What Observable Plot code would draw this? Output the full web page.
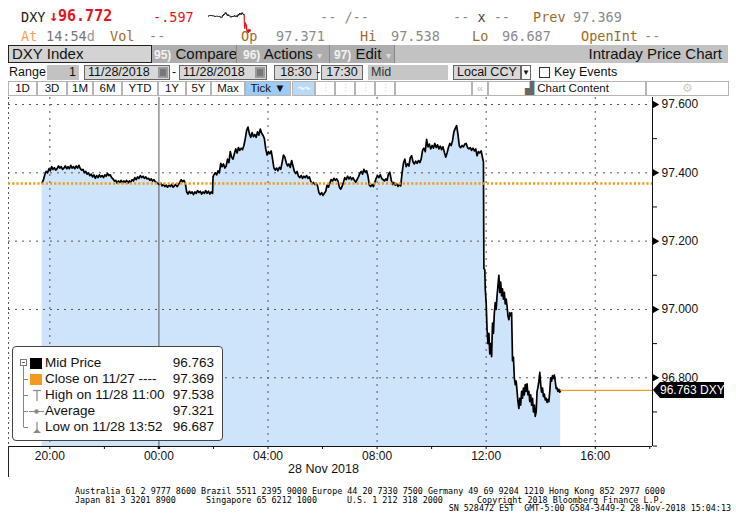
<!DOCTYPE html>
<html><head><meta charset="utf-8">
<script src="https://cdn.jsdelivr.net/npm/d3@7"></script>
<script src="https://cdn.jsdelivr.net/npm/@observablehq/plot@0.6"></script>
<style>
body{margin:0;background:#fff;}
#root{position:relative;width:736px;height:530px;overflow:hidden;font-family:"Liberation Sans",Arial,sans-serif;color:#111;}
.a{position:absolute;white-space:nowrap;box-sizing:border-box;}
.m{font-family:"DejaVu Sans Mono","Liberation Mono",monospace;font-size:13.5px;line-height:16px;}
.g{color:#8a8a8a}.b{color:#9c6a2c}
.r4{top:65px;height:15px;font-size:12.5px;line-height:13px;}
.bx{border:1px solid #666;}
.r5{top:81px;height:15px;font-size:11.5px;line-height:13px;text-align:center;border:1px solid #b5b5b5;background:#fff;}
.ft{font-family:"DejaVu Sans Mono","Liberation Mono",monospace;font-size:8.4px;line-height:8px;height:8px;color:#000;}
.lg{font-size:13.5px;line-height:16px;color:#111;}
</style></head>
<body>
<div id="root">
  <!-- row 1 -->
  <div class="a m" style="left:21px;top:9px;color:#1a1a1a">DXY</div>
  <div class="a m" style="left:49px;top:8px;color:#e3141b;font-size:15px;font-weight:bold">↓96.772</div>
  <div class="a m" style="left:153px;top:9px;color:#e3141b">-.597</div>
  <div class="a" id="spark" style="left:207px;top:11px"></div>
  <div class="a m g" style="left:320px;top:9px">-- /--</div>
  <div class="a m g" style="left:453px;top:9px">-- <span style="color:#444">x</span> --</div>
  <div class="a m b" style="left:533px;top:9px">Prev</div>
  <div class="a m g" style="left:573px;top:9px">97.369</div>
  <!-- row 2 -->
  <div class="a m" style="left:21px;top:28px;color:#f4a15c">At</div>
  <div class="a m" style="left:46px;top:28px;color:#777">14:54<span style="color:#999">d</span></div>
  <div class="a m b" style="left:110px;top:28px">Vol</div>
  <div class="a m g" style="left:149px;top:28px">--</div>
  <div class="a m b" style="left:241px;top:28px">Op</div>
  <div class="a m g" style="left:276px;top:28px">97.371</div>
  <div class="a m b" style="left:360px;top:28px">Hi</div>
  <div class="a m g" style="left:391px;top:28px">97.538</div>
  <div class="a m b" style="left:472px;top:28px">Lo</div>
  <div class="a m g" style="left:502px;top:28px">96.687</div>
  <div class="a m b" style="left:581px;top:28px">OpenInt</div>
  <div class="a m g" style="left:644px;top:28px">--</div>
  <!-- row 3 -->
  <div class="a" style="left:8px;top:45px;width:720px;height:18px;background:#c2c2c2"></div>
  <div class="a" style="left:151px;top:45px;width:243px;height:18px;background:#adadad"></div>
  <div class="a" style="left:8px;top:45px;width:144px;height:18px;border:1px solid #222;background:#d3d3d3;font-size:15px;line-height:16px;padding-left:3px">DXY Index</div>
  <div class="a" style="left:154px;top:45px;height:18px;font-size:15px;line-height:18px"><span style="color:#f2f2f2;font-size:12px;font-weight:bold">95)</span> Compare</div>
  <div class="a" style="left:236px;top:45px;width:1px;height:18px;background:#888"></div>
  <div class="a" style="left:243px;top:45px;height:18px;font-size:15px;line-height:18px"><span style="color:#f2f2f2;font-size:12px;font-weight:bold">96)</span> Actions <span style="color:#ddd;font-size:10px">▾</span></div>
  <div class="a" style="left:329px;top:45px;width:1px;height:18px;background:#888"></div>
  <div class="a" style="left:334px;top:45px;height:18px;font-size:15px;line-height:18px"><span style="color:#f2f2f2;font-size:12px;font-weight:bold">97)</span> Edit <span style="color:#ddd;font-size:10px">▾</span></div>
  <div class="a" style="left:394px;top:45px;width:1px;height:18px;background:#888"></div>
  <div class="a" style="right:14px;top:45px;height:18px;font-size:15px;line-height:18px">Intraday Price Chart</div>
  <!-- row 4 -->
  <div class="a r4" style="left:9px;line-height:15px">Range</div>
  <div class="a r4" style="left:47px;width:32px;background:#c2c2c2;text-align:right;padding-right:3px;line-height:15px">1</div>
  <div class="a r4 bx" style="left:84px;width:86px;background:#d8d8d8;padding-left:3px">11/28/2018</div>
  <div class="a" style="left:158px;top:67px;width:10px;height:11px;background:#777;border:2px solid #999"></div>
  <div class="a r4" style="left:172px;line-height:15px">-</div>
  <div class="a r4 bx" style="left:179px;width:88px;background:#d8d8d8;padding-left:3px">11/28/2018</div>
  <div class="a" style="left:255px;top:67px;width:10px;height:11px;background:#777;border:2px solid #999"></div>
  <div class="a r4 bx" style="left:274px;width:44px;background:#d8d8d8;text-align:center">18:30</div>
  <div class="a r4" style="left:316px;line-height:15px">-</div>
  <div class="a r4 bx" style="left:321px;width:42px;background:#d8d8d8;text-align:center">17:30</div>
  <div class="a r4" style="left:368px;width:80px;background:#c6c6c6;padding-left:3px;line-height:15px;color:#333">Mid</div>
  <div class="a r4 bx" style="left:453px;width:68px;background:#d8d8d8;padding-left:3px">Local CCY</div>
  <div class="a r4 bx" style="left:521px;width:10px;background:#fff;font-size:8px;text-align:center">▼</div>
  <div class="a" style="left:539px;top:67px;width:11px;height:11px;border:1px solid #333;background:#fff"></div>
  <div class="a r4" style="left:554px;line-height:15px">Key Events</div>
  <!-- row 5 -->
  <div class="a r5" style="left:8px;width:29px">1D</div>
  <div class="a r5" style="left:37px;width:30px">3D</div>
  <div class="a r5" style="left:67px;width:26px">1M</div>
  <div class="a r5" style="left:93px;width:29px">6M</div>
  <div class="a r5" style="left:122px;width:36px">YTD</div>
  <div class="a r5" style="left:158px;width:28px">1Y</div>
  <div class="a r5" style="left:186px;width:25px">5Y</div>
  <div class="a r5" style="left:211px;width:34px">Max</div>
  <div class="a r5" style="left:245px;width:46px;background:#9dcbf6">Tick ▼</div>
  <div class="a r5" style="left:292px;width:23px;background:#b9d9f8;color:#eaf4ff">〰</div>
  <div class="a r5" style="left:315px;width:20px;color:#ddd">⫶</div>
  <div class="a r5" style="left:335px;width:20px;color:#ddd">⫶</div>
  <div class="a r5" style="left:355px;width:20px;color:#ddd">⫶</div>
  <div class="a r5" style="left:375px;width:20px;color:#ddd">⫶</div>
  <div class="a r5" style="left:395px;width:77px"></div>
  <div class="a r5" style="left:472px;width:16px;color:#bbb">«</div>
  <div class="a r5" style="left:488px;width:158px;text-align:center"><span style="color:#666">▟</span> Chart Content</div>
  <div class="a r5" style="left:646px;width:83px;color:#ccc">⚙</div>
  <!-- chart -->
  <div class="a" id="chart" style="left:0;top:96px"></div>
  <div class="a" style="left:8px;top:446px;width:1px;height:31px;background:#222"></div>
  <div class="a" id="lastlab" style="left:653px;height:16px;width:71px;background:#000;color:#fff;font-size:12px;line-height:16px;padding-left:7px;clip-path:polygon(0 50%,7px 0,100% 0,100% 100%,7px 100%)">96.763 DXY</div>
  <!-- legend -->
  <div class="a" id="legend" style="left:12px;top:346px;width:211px;height:95px;border:1px solid #444;border-radius:4px;background:#fff"></div>
  <!-- footer -->
  <div class="a ft" style="left:75px;top:487px">Australia 61 2 9777 8600 Brazil 5511 2395 9000 Europe 44 20 7330 7500 Germany 49 69 9204 1210 Hong Kong 852 2977 6000</div>
  <div class="a ft" style="left:75px;top:495.5px">Japan 81 3 3201 8900</div>
  <div class="a ft" style="left:206px;top:495.5px">Singapore 65 6212 1000</div>
  <div class="a ft" style="left:347px;top:495.5px">U.S. 1 212 318 2000</div>
  <div class="a ft" style="left:477px;top:495.5px">Copyright 2018 Bloomberg Finance L.P.</div>
  <div class="a ft" style="right:5px;top:504px">SN 528472 EST&nbsp; GMT-5:00 G584-3449-2 28-Nov-2018 15:04:13</div>
</div>
<script>
// ---- data ----
const times = [
"19:43","19:46","19:49","19:52","19:55","19:58","20:01","20:04","20:07","20:10",
"20:13","20:16","20:19","20:22","20:25","20:28","20:31","20:34","20:37","20:40",
"20:43","20:46","20:49","20:52","20:55","20:58","21:01","21:04","21:07","21:10",
"21:13","21:16","21:19","21:22","21:25","21:28","21:31","21:34","21:37","21:40",
"21:43","21:46","21:49","21:52","21:55","21:58","22:01","22:04","22:07","22:10",
"22:13","22:16","22:19","22:22","22:25","22:28","22:31","22:34","22:37","22:40",
"22:43","22:46","22:49","22:52","22:55","22:58","23:01","23:04","23:07","23:10",
"23:13","23:16","23:19","23:22","23:25","23:28","23:31","23:34","23:37","23:40",
"23:43","23:46","23:49","23:52","23:55","23:58","00:01","00:04","00:07","00:10",
"00:13","00:16","00:19","00:22","00:25","00:28","00:31","00:34","00:37","00:40",
"00:43","00:46","00:49","00:52","00:55","00:58","01:01","01:04","01:07","01:10",
"01:13","01:16","01:19","01:22","01:25","01:28","01:31","01:34","01:37","01:40",
"01:43","01:46","01:49","01:52","01:55","01:58","01:59","02:01","02:04","02:07",
"02:10","02:13","02:16","02:19","02:22","02:25","02:28","02:31","02:34","02:37",
"02:40","02:43","02:46","02:49","02:52","02:55","02:58","03:01","03:04","03:07",
"03:10","03:13","03:16","03:19","03:22","03:25","03:28","03:31","03:34","03:37",
"03:40","03:43","03:46","03:49","03:52","03:55","03:58","04:01","04:04","04:07",
"04:10","04:13","04:16","04:19","04:22","04:25","04:28","04:31","04:34","04:37",
"04:40","04:43","04:46","04:49","04:52","04:55","04:58","05:01","05:04","05:07",
"05:10","05:13","05:16","05:19","05:22","05:25","05:28","05:31","05:34","05:37",
"05:40","05:43","05:46","05:49","05:52","05:55","05:58","06:01","06:04","06:07",
"06:10","06:13","06:16","06:19","06:22","06:25","06:28","06:31","06:34","06:37",
"06:40","06:43","06:46","06:49","06:52","06:55","06:58","07:01","07:04","07:07",
"07:10","07:13","07:16","07:19","07:22","07:25","07:28","07:31","07:34","07:37",
"07:40","07:43","07:46","07:49","07:52","07:55","07:58","08:01","08:04","08:07",
"08:10","08:13","08:16","08:19","08:22","08:25","08:28","08:31","08:34","08:37",
"08:40","08:43","08:46","08:49","08:52","08:55","08:58","09:01","09:04","09:07",
"09:10","09:13","09:16","09:19","09:22","09:25","09:28","09:31","09:34","09:37",
"09:40","09:43","09:46","09:49","09:52","09:55","09:58","10:01","10:04","10:07",
"10:10","10:13","10:16","10:19","10:22","10:25","10:28","10:31","10:34","10:37",
"10:40","10:43","10:46","10:49","10:52","10:55","10:58","11:01","11:04","11:07",
"11:10","11:13","11:16","11:19","11:22","11:25","11:28","11:31","11:34","11:37",
"11:40","11:43","11:46","11:49","11:52","11:54","11:55","11:57","11:58","12:00",
"12:02","12:04","12:06","12:08","12:10","12:12","12:14","12:16","12:18","12:20",
"12:22","12:24","12:26","12:28","12:30","12:32","12:34","12:36","12:38","12:40",
"12:42","12:44","12:46","12:48","12:50","12:52","12:54","12:56","12:58","13:00",
"13:02","13:04","13:06","13:08","13:10","13:12","13:14","13:16","13:18","13:20",
"13:22","13:24","13:26","13:28","13:30","13:32","13:34","13:36","13:38","13:40",
"13:42","13:44","13:46","13:48","13:50","13:52","13:54","13:56","13:58","14:00",
"14:02","14:04","14:06","14:08","14:10","14:12","14:14","14:16","14:18","14:20",
"14:22","14:24","14:26","14:28","14:30","14:32","14:34","14:36","14:38","14:40",
"14:42","14:44"];
const values = [
97.371,97.380,97.395,97.404,97.400,97.412,97.406,97.418,97.410,97.415,
97.408,97.412,97.420,97.414,97.418,97.410,97.414,97.420,97.412,97.418,
97.412,97.422,97.414,97.418,97.412,97.420,97.414,97.422,97.412,97.408,
97.410,97.400,97.404,97.396,97.400,97.392,97.396,97.388,97.394,97.384,
97.392,97.386,97.394,97.388,97.392,97.386,97.394,97.390,97.398,97.392,
97.394,97.386,97.382,97.376,97.378,97.370,97.376,97.372,97.378,97.370,
97.376,97.372,97.378,97.370,97.376,97.372,97.380,97.376,97.386,97.380,
97.388,97.384,97.392,97.386,97.390,97.384,97.388,97.382,97.384,97.378,
97.382,97.376,97.380,97.374,97.372,97.368,97.366,97.370,97.362,97.366,
97.360,97.364,97.358,97.364,97.360,97.366,97.358,97.362,97.366,97.360,
97.366,97.372,97.380,97.374,97.378,97.370,97.344,97.338,97.346,97.340,
97.344,97.336,97.344,97.340,97.348,97.342,97.346,97.338,97.344,97.340,
97.348,97.340,97.346,97.338,97.344,97.340,97.388,97.394,97.400,97.394,
97.406,97.400,97.428,97.418,97.426,97.414,97.420,97.440,97.430,97.462,
97.446,97.440,97.456,97.470,97.458,97.474,97.466,97.472,97.468,97.480,
97.500,97.524,97.534,97.514,97.504,97.518,97.506,97.512,97.504,97.520,
97.510,97.528,97.516,97.510,97.500,97.470,97.452,97.462,97.456,97.464,
97.440,97.414,97.408,97.414,97.406,97.416,97.410,97.430,97.452,97.446,
97.430,97.420,97.426,97.416,97.436,97.420,97.404,97.398,97.404,97.390,
97.386,97.392,97.384,97.390,97.386,97.392,97.384,97.388,97.376,97.368,
97.372,97.366,97.370,97.362,97.342,97.336,97.342,97.334,97.340,97.346,
97.364,97.358,97.370,97.380,97.376,97.384,97.378,97.382,97.376,97.358,
97.352,97.360,97.372,97.386,97.380,97.390,97.382,97.388,97.380,97.386,
97.378,97.372,97.380,97.388,97.398,97.404,97.396,97.410,97.402,97.406,
97.390,97.364,97.360,97.366,97.360,97.372,97.384,97.392,97.386,97.394,
97.384,97.380,97.376,97.382,97.378,97.396,97.402,97.380,97.366,97.372,
97.364,97.368,97.360,97.366,97.362,97.400,97.428,97.440,97.418,97.426,
97.420,97.444,97.450,97.432,97.426,97.434,97.428,97.436,97.430,97.440,
97.466,97.472,97.462,97.498,97.476,97.484,97.470,97.480,97.472,97.486,
97.474,97.482,97.470,97.478,97.468,97.476,97.460,97.446,97.458,97.474,
97.486,97.480,97.494,97.520,97.530,97.538,97.512,97.478,97.474,97.480,
97.476,97.484,97.486,97.474,97.470,97.474,97.466,97.472,97.464,97.470,
97.450,97.462,97.458,97.464,97.444,97.432,97.120,97.116,97.060,97.020,
96.940,96.900,96.930,96.870,96.900,96.862,96.960,96.930,96.990,97.020,
97.000,97.040,97.070,97.100,97.050,97.080,97.040,97.060,97.030,97.050,
97.016,97.030,97.010,96.980,96.970,96.990,96.982,96.990,96.850,96.860,
96.800,96.780,96.790,96.760,96.730,96.710,96.740,96.720,96.760,96.740,
96.770,96.750,96.780,96.760,96.782,96.750,96.760,96.730,96.750,96.720,
96.740,96.700,96.720,96.687,96.700,96.760,96.772,96.790,96.816,96.780,
96.758,96.770,96.745,96.752,96.735,96.740,96.728,96.736,96.730,96.760,
96.800,96.790,96.806,96.798,96.808,96.790,96.768,96.770,96.760,96.766,
96.758,96.763];
const yMajorTicks = [96.8, 97.0, 97.2, 97.4, 97.6];
const yMinorTicks = [96.6, 96.7, 96.9, 97.1, 97.3, 97.5];
const xGridHours = [20, 4, 8, 12, 16];
const prevClose = 97.369;
const lastPrice = 96.763;
const legendLabels = ["Mid Price", "Close on 11/27 ----", "High on 11/28 11:00", "Average", "Low on 11/28 13:52"];
const legendValues = ["96.763", "97.369", "97.538", "97.321", "96.687"];
const dateLabel = "28 Nov 2018";

// ---- build ----
const toDate = s => { const [h, m] = s.split(":").map(Number); return new Date(Date.UTC(2018, 10, h >= 18 ? 27 : 28, h, m)); };
const data = times.map((s, i) => ({t: toDate(s), v: values[i]}));
const xStart = new Date(Date.UTC(2018, 10, 27, 18, 29));
const xEnd = new Date(Date.UTC(2018, 10, 28, 18, 6));
const yDom = [96.5988, 97.6205];
const midnight = new Date(Date.UTC(2018, 10, 28, 0, 0));
const xTicks = d3.utcHour.every(2).range(new Date(Date.UTC(2018, 10, 27, 20)), new Date(Date.UTC(2018, 10, 28, 18, 1)));
const xGrid = xTicks.filter(d => xGridHours.includes(d.getUTCHours()) && d.getTime() !== midnight.getTime());
const fmt = d3.utcFormat("%H:%M");
const last = data[data.length - 1];

const plot = Plot.plot({
  width: 736, height: 384,
  marginLeft: 8, marginRight: 84, marginTop: 1, marginBottom: 34,
  x: {type: "utc", domain: [xStart, xEnd], label: null},
  y: {domain: yDom, label: null},
  style: {fontFamily: "'Liberation Sans', Arial, sans-serif", fontSize: "12px", color: "#111", background: "transparent", overflow: "visible"},
  marks: [
    Plot.areaY(data, {x: "t", y1: yDom[0], y2: "v", fill: "#cde4fb"}),
    Plot.ruleY(yMajorTicks, {stroke: "#555", strokeDasharray: "2,5"}),
    Plot.ruleX(xGrid, {stroke: "#555", strokeDasharray: "2,5"}),
    Plot.ruleX([midnight], {stroke: "#555", strokeWidth: 1}),
    Plot.ruleX([xStart], {stroke: "#555", strokeDasharray: "2,3"}),
    Plot.lineY(data, {x: "t", y: "v", stroke: "#000", strokeWidth: 1.7}),
    Plot.ruleY([prevClose], {stroke: "#f39a1e", strokeWidth: 2.5, strokeDasharray: "2.2,2"}),
    Plot.ruleY([lastPrice], {x1: () => last.t, x2: () => xEnd, stroke: "#f39a1e", strokeWidth: 1.4}),
    Plot.ruleY([yDom[0]], {stroke: "#111"}),
    Plot.ruleX([xEnd], {stroke: "#111"}),
    Plot.axisX({ticks: xTicks, label: null, tickSize: 3, tickPadding: 2, tickFormat: d => d.getUTCHours() % 4 === 0 ? fmt(d) : ""}),
    Plot.axisX([midnight], {label: null, tickSize: 3, strokeWidth: 2.5, tickFormat: () => ""}),
    Plot.axisY(yMajorTicks, {anchor: "right", label: null, tickSize: 0, tickPadding: 9, tickFormat: d3.format(".3f")}),
    Plot.axisY(yMinorTicks, {anchor: "right", label: null, tickSize: 4, tickFormat: () => ""}),
    Plot.dot(yMajorTicks, {x: () => xEnd, y: d => d, symbol: "triangle", rotate: 90, r: 2.8, fill: "#000", stroke: null, dx: 2.4}),
    Plot.text([dateLabel], {frameAnchor: "bottom", dy: 26, dx: -7, fontSize: 12.5})
  ]
});
document.getElementById("chart").appendChild(plot);

// last price label at the y scale position
const py = 96 + plot.scale("y").apply(lastPrice);
document.getElementById("lastlab").style.top = (py - 8) + "px";

// sparkline
const splitIdx = data.findIndex(d => d.v < 97.2);
const spark = Plot.plot({
  width: 44, height: 22, margin: 1,
  x: {type: "utc", axis: null}, y: {axis: null},
  style: {background: "transparent"},
  marks: [
    Plot.lineY(data.slice(0, splitIdx), {x: "t", y: "v", stroke: "#000", strokeWidth: 1}),
    Plot.lineY(data.slice(splitIdx - 1), {x: "t", y: "v", stroke: "#e3141b", strokeWidth: 1.2})
  ]
});
document.getElementById("spark").appendChild(spark);

// legend
const lg = document.getElementById("legend");
const rowY = [16, 32, 48, 64, 80];
const svgNS = "http://www.w3.org/2000/svg";
const ic = document.createElementNS(svgNS, "svg");
ic.setAttribute("width", 40); ic.setAttribute("height", 93);
ic.setAttribute("style", "position:absolute;left:0;top:0");
ic.innerHTML = `
  <line x1="10.5" y1="19" x2="10.5" y2="${rowY[4]}" stroke="#888"/>
  ${rowY.slice(1).map(y => `<line x1="10.5" y1="${y + 0.5}" x2="15" y2="${y + 0.5}" stroke="#888"/>`).join("")}
  <rect x="7.5" y="12.5" width="6" height="6" fill="#fff" stroke="#777"/>
  <line x1="9" y1="15.5" x2="12" y2="15.5" stroke="#555"/>
  <rect x="17" y="11" width="12" height="11" fill="#000"/>
  <rect x="17" y="27" width="12" height="11" fill="#f39a1e"/>
  <line x1="20" y1="43.5" x2="28" y2="43.5" stroke="#888" stroke-width="1.2"/>
  <line x1="24" y1="43.5" x2="24" y2="54" stroke="#888" stroke-width="1.2"/>
  <line x1="16" y1="64.5" x2="31" y2="64.5" stroke="#888"/>
  <circle cx="23.5" cy="64.5" r="2.2" fill="#888"/>
  <line x1="24" y1="75" x2="24" y2="85.5" stroke="#888" stroke-width="1.2"/>
  <path d="M20,86 L28,86 L24,82 Z" fill="#888"/>`;
lg.appendChild(ic);
legendLabels.forEach((t, i) => {
  const a = document.createElement("div");
  a.className = "a lg"; a.style.left = "32px"; a.style.top = (rowY[i] - 8) + "px"; a.textContent = t;
  lg.appendChild(a);
  const b = document.createElement("div");
  b.className = "a lg"; b.style.right = "8px"; b.style.top = (rowY[i] - 8) + "px"; b.textContent = legendValues[i];
  lg.appendChild(b);
});
</script>
</body></html>
